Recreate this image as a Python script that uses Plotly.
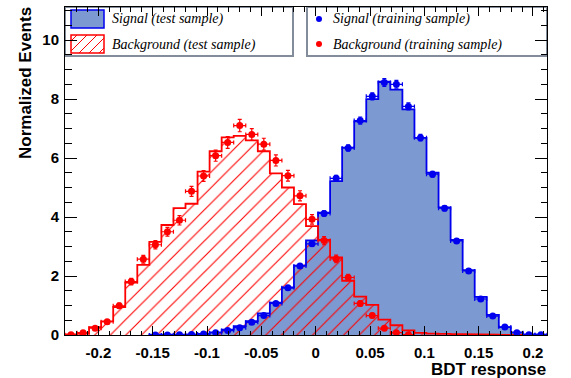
import plotly.graph_objects as go
import numpy as np

# ---------------- data ----------------
x_min = -0.2307
x_max = 0.2129
n_bins = 40

# test-sample histograms (normalized), bins 0..39
sig_test = [None, None, None, None, None, None, None,
            0.01, 0.01, 0.01, 0.02, 0.04, 0.09, 0.18, 0.30, 0.47, 0.73, 1.10, 1.61, 2.35,
            3.21, 4.15, 5.22, 6.35, 7.24, 8.00, 8.59, 8.32, 7.65, 6.68,
            5.50, 4.33, 3.22, 2.20, 1.29, 0.68, 0.27, 0.09, 0.03, 0.01]
bkg_test = [0.02, 0.05, 0.27, 0.46, 0.95, 1.78, 2.38, 3.16, 3.73, 4.30,
            4.45, 5.54, 6.23, 6.70, 6.75, 6.60, 6.23, 5.48, 5.00, 4.44,
            3.69, 3.22, 2.63, 1.84, 1.30, 1.02, 0.52, 0.33, 0.16, 0.07,
            0.05, 0.04, 0.03, 0.03, 0.02, 0.01, 0.0, 0.0, 0.0, 0.0]

# training-sample points
sig_train = [None, None, None, None, None, None, None,
             0.0, 0.0, 0.01, 0.02, 0.03, 0.08, 0.15, 0.25, 0.43, 0.66, 1.07, 1.60, 2.34,
             3.09, 4.12, 5.31, 6.34, 7.27, 8.09, 8.56, 8.50, 7.75, 6.69,
             5.45, 4.30, 3.19, 2.17, 1.22, 0.64, 0.27, 0.08, 0.01, 0.01]
sig_train_err = [None, None, None, None, None, None, None,
                 0.0, 0.0, 0.01, 0.01, 0.01, 0.02, 0.02, 0.03, 0.03, 0.04, 0.05, 0.06, 0.07,
                 0.08, 0.09, 0.10, 0.11, 0.12, 0.12, 0.13, 0.13, 0.12, 0.11,
                 0.10, 0.09, 0.08, 0.07, 0.05, 0.04, 0.03, 0.02, 0.01, 0.01]
bkg_train = [0.01, 0.08, 0.23, 0.45, 0.99, 1.81, 2.57, 3.06, 3.50, 3.89,
             4.87, 5.39, 6.08, 6.53, 7.10, 6.80, 6.47, 5.92, 5.40, 4.72,
             3.92, 3.20, 2.58, 1.95, 1.07, 0.66, 0.23, 0.08, 0.01, None,
             None, None, None, None, None, None, None, None, None, None]
bkg_train_err = [0.01, 0.03, 0.05, 0.07, 0.09, 0.11, 0.13, 0.14, 0.15, 0.16,
                 0.17, 0.18, 0.19, 0.20, 0.21, 0.20, 0.20, 0.19, 0.18, 0.17,
                 0.16, 0.14, 0.13, 0.11, 0.09, 0.07, 0.04, 0.03, 0.01, None,
                 None, None, None, None, None, None, None, None, None, None]

x_tick_vals = [-0.2, -0.15, -0.1, -0.05, 0, 0.05, 0.1, 0.15, 0.2]
x_tick_text = ["-0.2", "-0.15", "-0.1", "-0.05", "0", "0.05", "0.1", "0.15", "0.2"]
y_tick_vals = [0, 2, 4, 6, 8, 10]
y_tick_text = ["0", "2", "4", "6", "8", "10"]
legend_labels = ["Signal (test sample)", "Background (test sample)",
                 "Signal (training sample)", "Background (training sample)"]
x_title = "BDT response"
y_title = "Normalized Events"

# ---------------- styling ----------------
SIG_FILL = "#7d99d1"
SIG_LINE = "#0000ee"
BKG_LINE = "#ff0000"
W, H = 571, 378
ML, MR, MT, MB = 65, 24, 7, 43
PW, PH = W - ML - MR, H - MT - MB

edges = np.linspace(x_min, x_max, n_bins + 1)
centers = 0.5 * (edges[:-1] + edges[1:])
bw = edges[1] - edges[0]


def step_xy(vals):
    idx = [i for i, v in enumerate(vals) if v is not None]
    i0, i1 = idx[0], idx[-1]
    xs, ys = [edges[i0]], [0.0]
    for i in range(i0, i1 + 1):
        xs += [edges[i], edges[i + 1]]
        ys += [vals[i], vals[i]]
    xs.append(edges[i1 + 1])
    ys.append(0.0)
    return xs, ys


def px(xp):
    return (xp - ML) / PW


def py(yp):
    return (MT + PH - yp) / PH


fig = go.Figure()

# signal filled histogram
fig.add_trace(go.Bar(x=centers, y=[v if v is not None else 0 for v in sig_test], width=bw,
                     marker=dict(color=SIG_FILL, line=dict(width=0)), showlegend=False))
# background hatched histogram
fig.add_trace(go.Bar(x=centers, y=bkg_test, width=bw,
                     marker=dict(color="rgba(0,0,0,0)", line=dict(width=0),
                                 pattern=dict(shape="/", fgcolor=BKG_LINE, bgcolor="rgba(0,0,0,0)",
                                              size=11, solidity=0.1, fillmode="replace")),
                     showlegend=False))
# outlines
sx, sy = step_xy(sig_test)
fig.add_trace(go.Scatter(x=sx, y=sy, mode="lines", line=dict(color=SIG_LINE, width=1.8),
                         showlegend=False))
bx, by = step_xy(bkg_test)
fig.add_trace(go.Scatter(x=bx, y=by, mode="lines", line=dict(color=BKG_LINE, width=1.8),
                         showlegend=False))
# training points
fig.add_trace(go.Scatter(x=centers, y=sig_train, mode="markers",
                         marker=dict(color=SIG_LINE, size=7),
                         error_x=dict(type="constant", value=bw / 2, color=SIG_LINE, thickness=1.2, width=2),
                         error_y=dict(type="data", array=sig_train_err, color=SIG_LINE, thickness=1.2, width=2),
                         showlegend=False))
fig.add_trace(go.Scatter(x=centers, y=bkg_train, mode="markers",
                         marker=dict(color=BKG_LINE, size=7),
                         error_x=dict(type="constant", value=bw / 2, color=BKG_LINE, thickness=1.2, width=2),
                         error_y=dict(type="data", array=bkg_train_err, color=BKG_LINE, thickness=1.2, width=2),
                         showlegend=False))

# ---------------- legend (manual) ----------------
shapes = []
box_col = "#838c9a"
# left box
shapes.append(dict(type="rect", xref="paper", yref="paper", x0=px(65), x1=px(293), y0=py(56), y1=py(7),
                   line=dict(color=box_col, width=2), fillcolor="white", layer="below"))
# right box
shapes.append(dict(type="rect", xref="paper", yref="paper", x0=px(307), x1=px(547), y0=py(56), y1=py(7),
                   line=dict(color=box_col, width=2), fillcolor="white", layer="below"))
# signal symbol
shapes.append(dict(type="rect", xref="paper", yref="paper", x0=px(71), x1=px(104), y0=py(28), y1=py(10),
                   line=dict(color=SIG_LINE, width=1.5), fillcolor=SIG_FILL, layer="below"))
# background symbol with hatch
shapes.append(dict(type="rect", xref="paper", yref="paper", x0=px(71), x1=px(104), y0=py(53), y1=py(35),
                   line=dict(color=BKG_LINE, width=1.5), fillcolor="white", layer="below"))
rx0, rx1, ry0, ry1 = 71, 104, 35, 53
c = rx0 + ry0 + 6
while c < rx1 + ry1:
    lo = max(rx0, c - ry1)
    hi = min(rx1, c - ry0)
    if hi - lo > 0.5:
        shapes.append(dict(type="line", xref="paper", yref="paper",
                           x0=px(lo), y0=py(c - lo), x1=px(hi), y1=py(c - hi),
                           line=dict(color=BKG_LINE, width=1), layer="below"))
    c += 10
# dots
for yc, col in [(19, SIG_LINE), (44, BKG_LINE)]:
    shapes.append(dict(type="circle", xref="paper", yref="paper",
                       x0=px(316), x1=px(322), y0=py(yc + 3), y1=py(yc - 3),
                       line=dict(color=col, width=0), fillcolor=col, layer="below"))

annotations = []
leg_font = dict(family="Liberation Serif", size=14, color="black")
for (xx, yy), txt in zip([(110, 19), (110, 45), (331, 19), (331, 45)], legend_labels):
    annotations.append(dict(text="<i>" + txt + "</i>", xref="paper", yref="paper",
                            x=px(xx), y=py(yy), xanchor="left", yanchor="middle",
                            showarrow=False, font=leg_font))
title_font = dict(family="Liberation Sans", size=17, color="black", weight="bold")
annotations.append(dict(text=x_title, xref="paper", yref="paper", x=px(548), y=py(369),
                        xanchor="right", yanchor="middle", showarrow=False, font=title_font))
annotations.append(dict(text=y_title, xref="paper", yref="paper", x=px(25), y=py(83),
                        xanchor="center", yanchor="middle", textangle=-90, showarrow=False,
                        font=title_font))

tick_font = dict(family="Liberation Sans", size=15, color="black", weight="bold")
fig.update_layout(
    width=W, height=H, margin=dict(l=ML, r=MR, t=MT, b=MB),
    paper_bgcolor="white", plot_bgcolor="white",
    barmode="overlay", bargap=0, showlegend=False, hovermode=False,
    shapes=shapes, annotations=annotations,
    xaxis=dict(range=[x_min, x_max], tickmode="array", tickvals=x_tick_vals, ticktext=x_tick_text,
               ticks="inside", ticklen=9, tickwidth=1, tickcolor="black",
               minor=dict(dtick=0.01, tick0=0, ticks="inside", ticklen=4.5, tickwidth=1, tickcolor="black"),
               showline=True, linecolor="black", linewidth=1, mirror="allticks",
               showgrid=False, zeroline=False, tickfont=tick_font, ticklabelstandoff=4),
    yaxis=dict(range=[0, 11.12], tickmode="array", tickvals=y_tick_vals, ticktext=y_tick_text,
               ticks="inside", ticklen=12, tickwidth=1, tickcolor="black",
               minor=dict(dtick=0.5, tick0=0, ticks="inside", ticklen=6.5, tickwidth=1, tickcolor="black"),
               showline=True, linecolor="black", linewidth=1, mirror="allticks",
               showgrid=False, zeroline=False, tickfont=tick_font, ticklabelstandoff=2),
)

fig.write_html("out.html", config={"displayModeBar": False},
               post_script="document.body.style.margin='0';document.body.style.padding='0';")
